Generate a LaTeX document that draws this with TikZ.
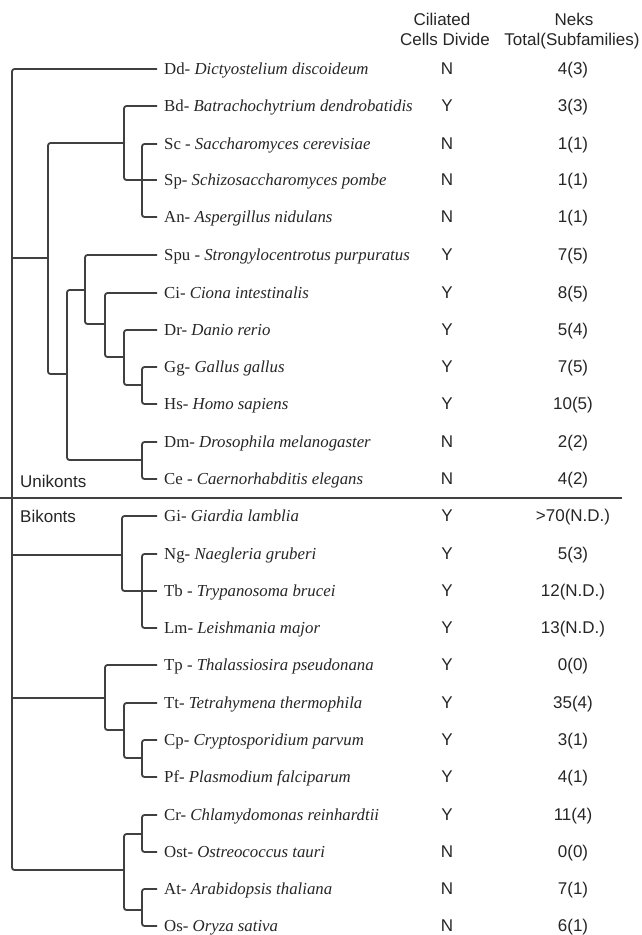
\documentclass[tikz,border=0pt]{standalone}
\usepackage{fontspec}
\setmainfont{Liberation Serif}
\setsansfont{Liberation Sans}
\begin{document}
\begin{tikzpicture}[x=1pt,y=-1pt,
  br/.style={draw=black!75, line width=1.8pt, rounded corners=2.5pt},
  lab/.style={anchor=base west, inner sep=0pt, yshift=-5.8pt, text=black!85, font=\fontsize{16.8}{20}\selectfont},
  yn/.style={anchor=base, inner sep=0pt, yshift=-5.8pt, text=black!85, font=\sffamily\fontsize{17}{20}\selectfont},
  hdr/.style={anchor=base, inner sep=0pt, text=black!85, font=\sffamily\fontsize{17}{20}\selectfont},
  grp/.style={anchor=base west, inner sep=0pt, text=black!85, font=\sffamily\fontsize{17}{20}\selectfont}]
\useasboundingbox (0,0) rectangle (642,935);
\fill[white] (0,0) rectangle (642,935);

% headers
\node[hdr] (h1a) at (442,25) {Ciliated};
\node[hdr] (h1b) at (445,45) {Cells Divide};
\node[hdr] (h2a) at (574,25) {Neks};
\node[hdr] (h2b) at (572,45) {Total(Subfamilies)};

% leaf end coordinates
\coordinate (Dd) at (157,69);
\coordinate (Bd) at (157,106);
\coordinate (Sc) at (157,144);
\coordinate (Sp) at (157,180);
\coordinate (An) at (157,217);
\coordinate (Spu) at (157,255);
\coordinate (Ci) at (157,293);
\coordinate (Dr) at (157,330);
\coordinate (Gg) at (157,367);
\coordinate (Hs) at (157,404);
\coordinate (Dm) at (157,442);
\coordinate (Ce) at (157,479);
\coordinate (Gi) at (157,516);
\coordinate (Ng) at (157,554);
\coordinate (Tb) at (157,591);
\coordinate (Lm) at (157,628);
\coordinate (Tp) at (157,665);
\coordinate (Tt) at (157,703);
\coordinate (Cp) at (157,740);
\coordinate (Pf) at (157,777);
\coordinate (Cr) at (157,815);
\coordinate (Ost) at (157,852);
\coordinate (At) at (157,889);
\coordinate (Os) at (157,926);

% internal node attach points
\coordinate (root) at (12,470);
\coordinate (nSA) at (142,180);
\coordinate (nF) at (124,143);
\coordinate (nU) at (48,258);
\coordinate (nM) at (67,374);
\coordinate (nD) at (85,290);
\coordinate (nV) at (105,324);
\coordinate (nVe) at (124,357);
\coordinate (nGH) at (142,385);
\coordinate (nDC) at (142,460);
\coordinate (nNTL) at (142,591);
\coordinate (nE) at (122,555);
\coordinate (nCP) at (142,758);
\coordinate (nA) at (124,730);
\coordinate (nC) at (105,698);
\coordinate (nCO) at (142,834);
\coordinate (nAO) at (142,910);
\coordinate (nP) at (124,870);

% branches
\draw[br] (Dd) -- (Dd -| root) -- (nP -| root) -- (nP);
\draw[br] (nU -| root) -- (nU);
\draw[br] (nE -| root) -- (nE);
\draw[br] (nC -| root) -- (nC);

\draw[br] (nF) -- (nF -| nU) -- (nM -| nU) -- (nM);
\draw[br] (Bd) -- (Bd -| nF) -- (nSA -| nF) -- (nSA);
\draw[br] (Sc) -- (Sc -| nSA) -- (An -| nSA) -- (An);
\draw[br] (Sp) -- (nSA);

\draw[br] (nD) -- (nD -| nM) -- (nDC -| nM) -- (nDC);
\draw[br] (Spu) -- (Spu -| nD) -- (nV -| nD) -- (nV);
\draw[br] (Ci) -- (Ci -| nV) -- (nVe -| nV) -- (nVe);
\draw[br] (Dr) -- (Dr -| nVe) -- (nGH -| nVe) -- (nGH);
\draw[br] (Gg) -- (Gg -| nGH) -- (Hs -| nGH) -- (Hs);
\draw[br] (Dm) -- (Dm -| nDC) -- (Ce -| nDC) -- (Ce);

\draw[br] (Gi) -- (Gi -| nE) -- (nNTL -| nE) -- (nNTL);
\draw[br] (Ng) -- (Ng -| nNTL) -- (Lm -| nNTL) -- (Lm);
\draw[br] (Tb) -- (nNTL);

\draw[br] (Tp) -- (Tp -| nC) -- (nA -| nC) -- (nA);
\draw[br] (Tt) -- (Tt -| nA) -- (nCP -| nA) -- (nCP);
\draw[br] (Cp) -- (Cp -| nCP) -- (Pf -| nCP) -- (Pf);

\draw[br] (nCO) -- (nCO -| nP) -- (nAO -| nP) -- (nAO);
\draw[br] (Cr) -- (Cr -| nCO) -- (Ost -| nCO) -- (Ost);
\draw[br] (At) -- (At -| nAO) -- (Os -| nAO) -- (Os);

% divider
\coordinate (dl) at (0,498);
\coordinate (dr) at (622,498);
\draw[draw=black!75, line width=1.8pt] (dl) -- (dr);
\node[grp] (uni) at (20,487) {Unikonts};
\node[grp] (bik) at (20,522) {Bikonts};

% labels
\node[lab] (tDd) at (164,69) {Dd- \textit{Dictyostelium discoideum}};
\node[lab] (tBd) at (164,106) {Bd- \textit{Batrachochytrium dendrobatidis}};
\node[lab] (tSc) at (164,144) {Sc - \textit{Saccharomyces cerevisiae}};
\node[lab] (tSp) at (164,180) {Sp- \textit{Schizosaccharomyces pombe}};
\node[lab] (tAn) at (164,217) {An- \textit{Aspergillus nidulans}};
\node[lab] (tSpu) at (164,255) {Spu - \textit{Strongylocentrotus purpuratus}};
\node[lab] (tCi) at (164,293) {Ci- \textit{Ciona intestinalis}};
\node[lab] (tDr) at (164,330) {Dr- \textit{Danio rerio}};
\node[lab] (tGg) at (164,367) {Gg- \textit{Gallus gallus}};
\node[lab] (tHs) at (164,404) {Hs- \textit{Homo sapiens}};
\node[lab] (tDm) at (164,442) {Dm- \textit{Drosophila melanogaster}};
\node[lab] (tCe) at (164,479) {Ce - \textit{Caernorhabditis elegans}};
\node[lab] (tGi) at (164,516) {Gi- \textit{Giardia lamblia}};
\node[lab] (tNg) at (164,554) {Ng- \textit{Naegleria gruberi}};
\node[lab] (tTb) at (164,591) {Tb - \textit{Trypanosoma brucei}};
\node[lab] (tLm) at (164,628) {Lm- \textit{Leishmania major}};
\node[lab] (tTp) at (164,665) {Tp - \textit{Thalassiosira pseudonana}};
\node[lab] (tTt) at (164,703) {Tt- \textit{Tetrahymena thermophila}};
\node[lab] (tCp) at (164,740) {Cp- \textit{Cryptosporidium parvum}};
\node[lab] (tPf) at (164,777) {Pf- \textit{Plasmodium falciparum}};
\node[lab] (tCr) at (164,815) {Cr- \textit{Chlamydomonas reinhardtii}};
\node[lab] (tOst) at (164,852) {Ost- \textit{Ostreococcus tauri}};
\node[lab] (tAt) at (164,889) {At- \textit{Arabidopsis thaliana}};
\node[lab] (tOs) at (164,926) {Os- \textit{Oryza sativa}};

% ciliated cells divide
\foreach \nm/\yy/\v in {Dd/69/N, Bd/106/Y, Sc/144/N, Sp/180/N, An/217/N, Spu/255/Y, Ci/293/Y, Dr/330/Y, Gg/367/Y, Hs/404/Y, Dm/442/N, Ce/479/N, Gi/516/Y, Ng/554/Y, Tb/591/Y, Lm/628/Y, Tp/665/Y, Tt/703/Y, Cp/740/Y, Pf/777/Y, Cr/815/Y, Ost/852/N, At/889/N, Os/926/N}
  \node[yn] (c\nm) at (447,\yy) {\v};

% neks
\foreach \nm/\yy/\v in {Dd/69/4(3), Bd/106/3(3), Sc/144/1(1), Sp/180/1(1), An/217/1(1), Spu/255/7(5), Ci/293/8(5), Dr/330/5(4), Gg/367/7(5), Hs/404/10(5), Dm/442/2(2), Ce/479/4(2), Gi/516/>70(N.D.), Ng/554/5(3), Tb/591/12(N.D.), Lm/628/13(N.D.), Tp/665/0(0), Tt/703/35(4), Cp/740/3(1), Pf/777/4(1), Cr/815/11(4), Ost/852/0(0), At/889/7(1), Os/926/6(1)}
  \node[yn] (k\nm) at (573,\yy) {\v};
\end{tikzpicture}
\end{document}
